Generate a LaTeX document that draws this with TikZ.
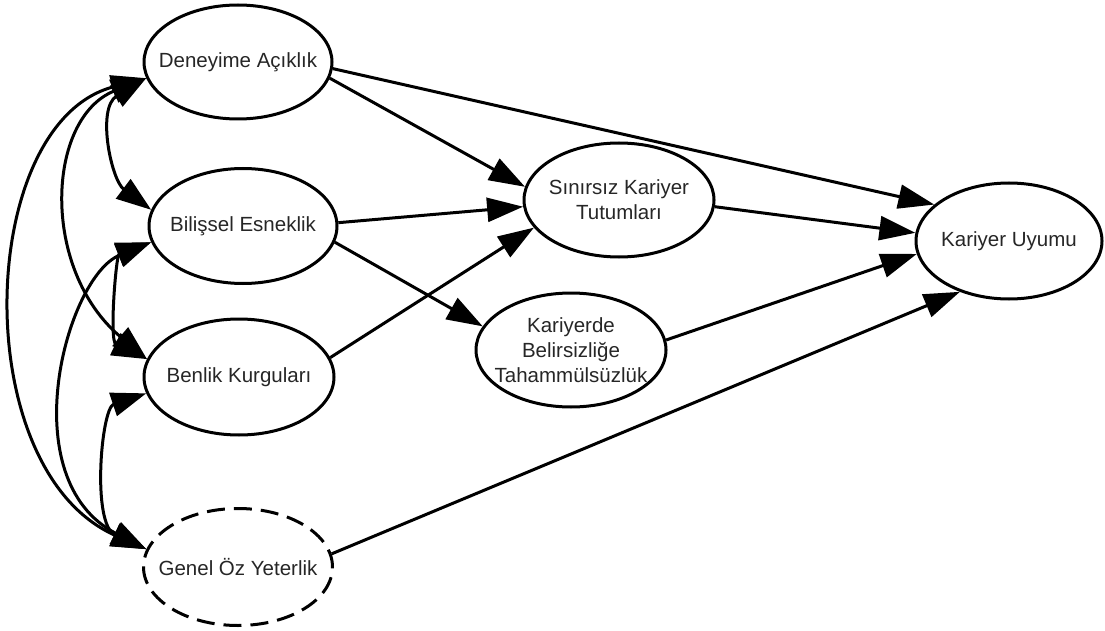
\documentclass[tikz,border=0pt]{standalone}
\usepackage{fontspec}
\setmainfont{Liberation Sans}
\usetikzlibrary{shapes.geometric,arrows.meta}
\definecolor{txtcol}{RGB}{38,38,38}
\begin{document}
\begin{tikzpicture}[x=1pt,y=-1pt,
  ell/.style={ellipse, draw, line width=3pt, inner xsep=-30pt, inner ysep=0pt,
    font=\fontsize{20.5}{25}\selectfont, text=txtcol, align=center},
  arr/.style={line width=3pt, -{Triangle[length=36pt,width=24pt]}},
  cov/.style={line width=3pt, {Triangle[length=35pt,width=24pt]}-{Triangle[length=35pt,width=24pt]}}
]
\useasboundingbox (0,0) rectangle (1105,631);
\node[ell, minimum width=188pt, minimum height=114pt] (de) at (238,62) {Deneyime Açıklık};
\node[ell, minimum width=188pt, minimum height=115pt] (be) at (243,226) {Bilişsel Esneklik};
\node[ell, minimum width=190pt, minimum height=116pt] (bk) at (239,377) {Benlik Kurguları};
\node[ell, dash pattern=on 18pt off 9pt, minimum width=189pt, minimum height=117pt] (go) at (238,567) {Genel Öz Yeterlik};
\node[ell, minimum width=190pt, minimum height=114pt] (sk) at (619,200) {Sınırsız Kariyer\\Tutumları};
\node[ell, minimum width=190pt, minimum height=114pt] (kb) at (571,350) {Kariyerde\\Belirsizliğe\\Tahammülsüzlük};
\node[ell, minimum width=186pt, minimum height=116pt] (ku) at (1009,241) {Kariyer Uyumu};

% directed paths
\draw[arr] (de.-10.8) -- (sk.172.9);
\draw[arr] (de.-4.8) -- (ku.154.6);
\draw[arr] (be.2.4) -- (sk.184.2);
\draw[arr] (be.-10.3) -- (kb.165.4);
\draw[arr] (bk.12) -- (sk.198);
\draw[arr] (sk.-4.8) -- (ku.175);
\draw[arr] (kb.6) -- (ku.188.7);
\draw[arr] (go.8.4) -- (ku.226.7);

% covariances
\draw[cov] (de.190) .. controls +(-50,30) and +(-40,-30) .. (be.170);
\draw[cov] (de.190) .. controls +(-100,40) and +(-107,-90) .. (bk.169.5);
\draw[cov] (de.190) .. controls +(-170,45) and +(-180,-80) .. (go.169.3);
\draw[cov] (be.190) .. controls +(-35,13) and +(-38,-18) .. (bk.169.5);
\draw[cov] (be.190) .. controls +(-85,35) and +(-135,-70) .. (go.169.3);
\draw[cov] (bk.190.8) .. controls +(-45,15) and +(-55,-25) .. (go.169.3);
\end{tikzpicture}
\end{document}
